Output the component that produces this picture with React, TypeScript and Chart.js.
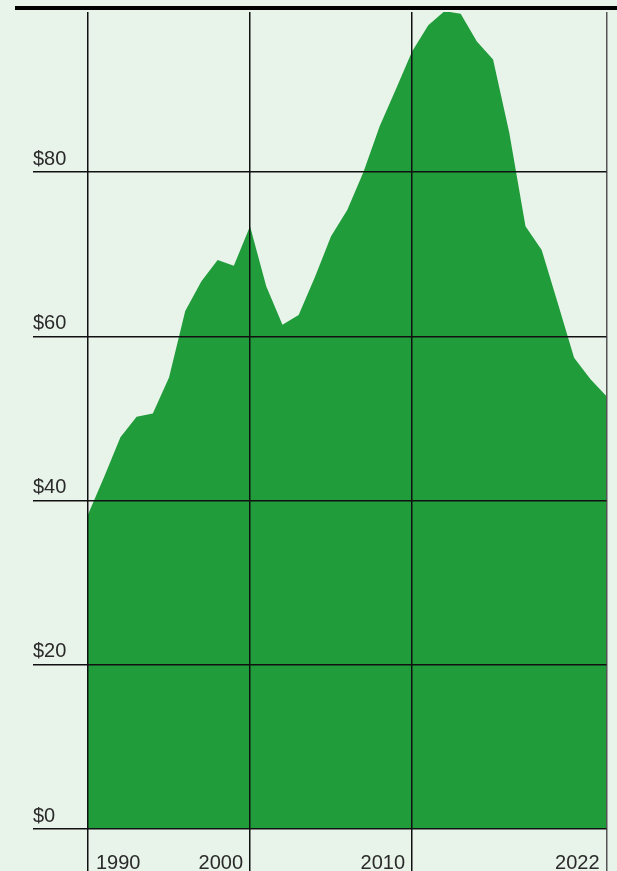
import React, { useEffect, useRef } from 'react';
import { Chart, registerables } from 'chart.js';

Chart.register(...registerables);

// Data
const years = [
  1990, 1991, 1992, 1993, 1994, 1995, 1996, 1997, 1998, 1999,
  2000, 2001, 2002, 2003, 2004, 2005, 2006, 2007, 2008, 2009,
  2010, 2011, 2012, 2013, 2014, 2015, 2016, 2017, 2018, 2019,
  2020, 2021, 2022,
];
const values = [
  38.3, 42.9, 47.7, 50.2, 50.6, 55.0, 63.1, 66.7, 69.3, 68.6,
  73.4, 66.1, 61.4, 62.6, 67.2, 72.2, 75.4, 80.0, 85.6, 90.1,
  94.7, 97.9, 99.6, 99.3, 95.9, 93.7, 84.8, 73.4, 70.5, 64.0,
  57.4, 54.8, 52.7,
];
const xTicks = [1990, 2000, 2010, 2022];
const yTicks = [0, 20, 40, 60, 80];

const BG = '#e8f3ea';
const GREEN = '#219c3b';
const LINE = '#111111';
const TEXT = '#2a2a2a';
const FONT_FAMILY = '"Liberation Sans", Arial, Helvetica, sans-serif';
const FONT_SIZE = 20;

const backgroundPlugin = {
  id: 'bgPlugin',
  beforeDraw(chart: any) {
    const ctx = chart.ctx;
    ctx.save();
    ctx.fillStyle = BG;
    ctx.fillRect(0, 0, chart.width, chart.height);
    ctx.restore();
  },
  afterDraw(chart: any) {
    const ctx = chart.ctx;
    ctx.save();
    // top rule
    ctx.fillStyle = '#000';
    ctx.fillRect(15, 6, chart.width - 15, 4);
    // x labels
    const xs = chart.scales.x;
    ctx.fillStyle = TEXT;
    ctx.font = `${FONT_SIZE}px ${FONT_FAMILY}`;
    ctx.textBaseline = 'alphabetic';
    xTicks.forEach((v, i) => {
      const px = xs.getPixelForValue(v);
      if (i === 0) {
        ctx.textAlign = 'left';
        ctx.fillText(String(v), px + 8, 869);
      } else {
        ctx.textAlign = 'right';
        ctx.fillText(String(v), px - 7, 869);
      }
    });
    ctx.restore();
  },
};

export default function App() {
  const ref = useRef<HTMLCanvasElement | null>(null);

  useEffect(() => {
    if (!ref.current) return;
    const chart = new Chart(ref.current, {
      type: 'line',
      data: {
        datasets: [
          {
            data: years.map((y, i) => ({ x: y, y: values[i] })),
            fill: 'origin',
            backgroundColor: GREEN,
            borderColor: 'rgba(0,0,0,0)',
            borderWidth: 0,
            pointRadius: 0,
            pointHoverRadius: 0,
            tension: 0,
          },
        ],
      },
      options: {
        responsive: false,
        animation: false,
        events: [],
        layout: { padding: { left: 33, right: 10.5, top: 12, bottom: 0 } },
        plugins: {
          legend: { display: false },
          tooltip: { enabled: false },
        },
        scales: {
          x: {
            type: 'linear',
            min: 1990,
            max: 2022,
            afterBuildTicks: (s: any) => {
              s.ticks = xTicks.map((v) => ({ value: v }));
            },
            afterFit: (s: any) => {
              s.height = 42;
              s.paddingLeft = 0;
              s.paddingRight = 0;
            },
            border: { display: false },
            grid: {
              z: 1,
              color: (c: any) => (c.tick && c.tick.value === 2022 ? '#555555' : LINE),
              lineWidth: 1.5,
              drawTicks: true,
              tickLength: 42,
            },
            ticks: { display: false },
          },
          y: {
            type: 'linear',
            min: 0,
            max: 99.5,
            afterBuildTicks: (s: any) => {
              s.ticks = yTicks.map((v) => ({ value: v }));
            },
            afterFit: (s: any) => {
              s.width = 55;
              s.paddingTop = 0;
              s.paddingBottom = 0;
            },
            border: { display: false },
            grid: {
              z: 1,
              color: LINE,
              lineWidth: 1.5,
              drawTicks: true,
              tickLength: 55,
            },
            ticks: {
              z: 1,
              crossAlign: 'far',
              labelOffset: -13,
              color: TEXT,
              autoSkip: false,
              font: { family: FONT_FAMILY, size: FONT_SIZE },
              callback: (v: any) => '$' + v,
            },
          },
        },
      },
      plugins: [backgroundPlugin],
    });
    return () => chart.destroy();
  }, []);

  return (
    <div style={{ position: 'absolute', left: 0, top: 0, width: 617, height: 871 }}>
      <canvas ref={ref} width={617} height={871} style={{ display: 'block' }} />
    </div>
  );
}
